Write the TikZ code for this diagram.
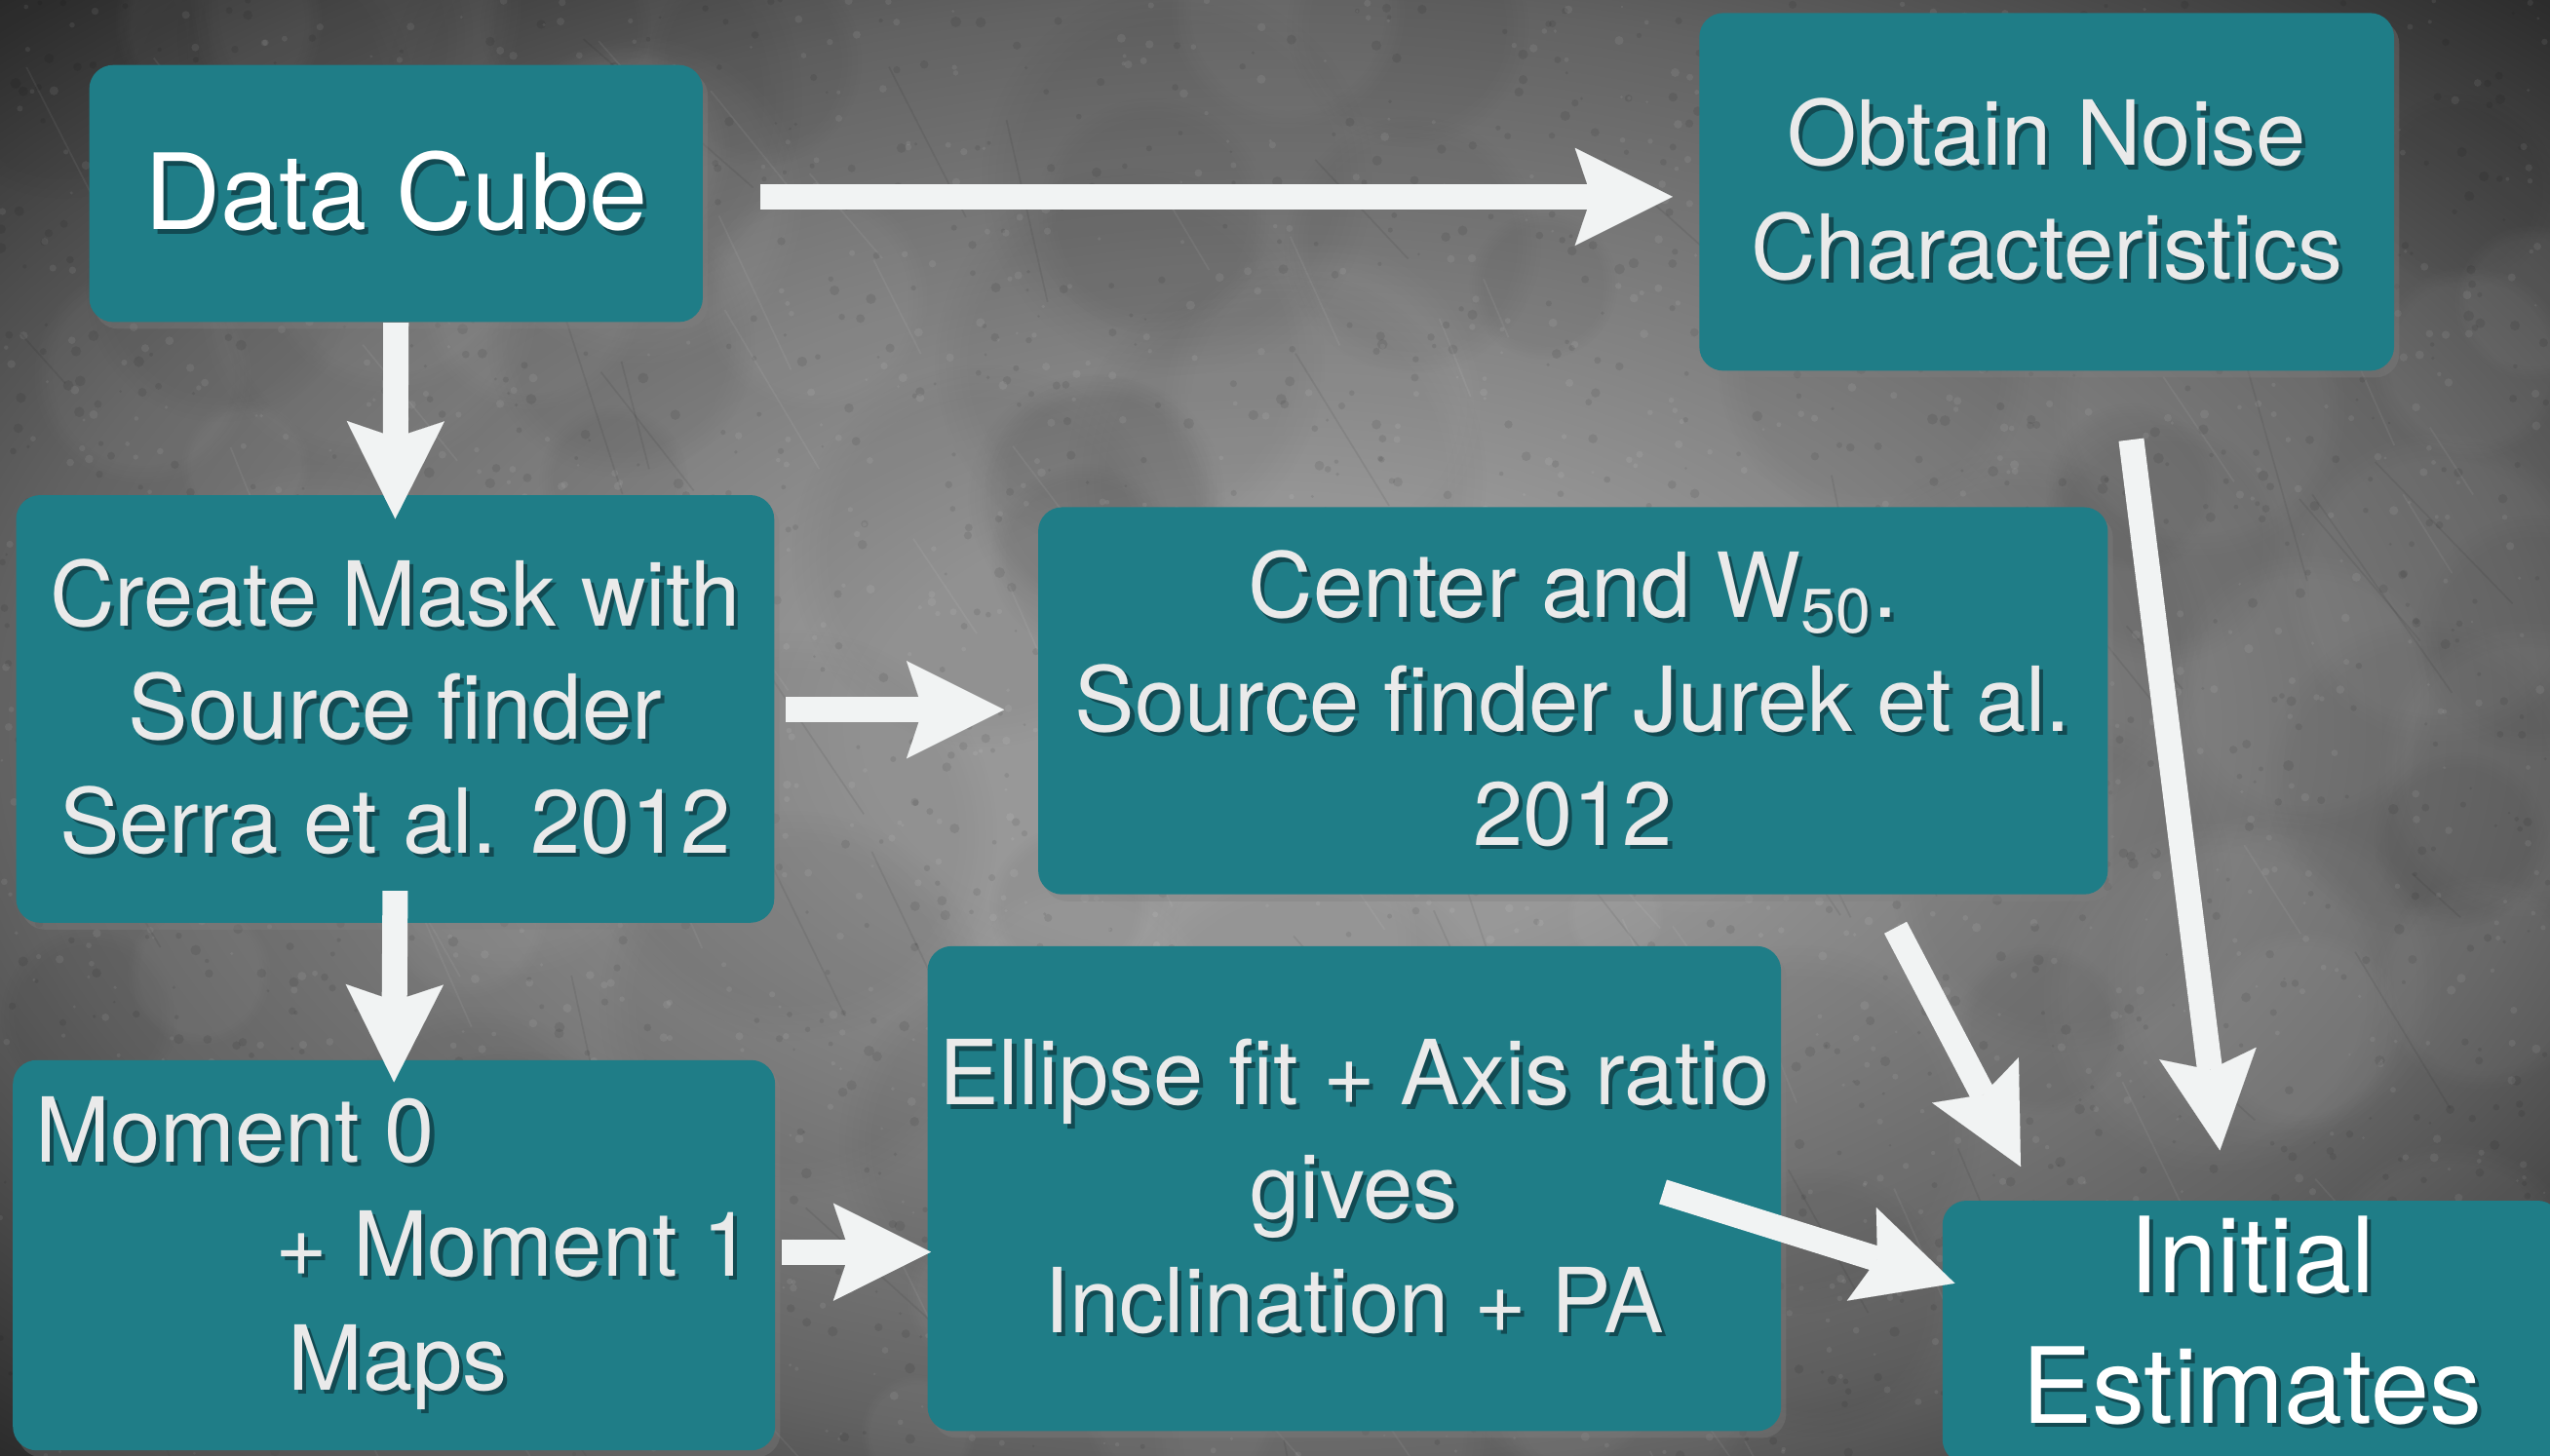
\documentclass[tikz,border=0pt]{standalone}
\usepackage{fontspec}
\setmainfont{TeX Gyre Heros}
\usetikzlibrary{arrows.meta,shadows,calc,fadings}

\definecolor{boxteal}{RGB}{31,125,135}
\definecolor{txtlight}{RGB}{234,234,234}
\definecolor{txtshade}{RGB}{18,74,82}
\definecolor{arrowwhite}{RGB}{241,243,243}
\definecolor{bgcentre}{RGB}{152,152,152}
\definecolor{bgedge}{RGB}{98,98,98}
\definecolor{bgcorner}{RGB}{40,40,40}

% darkened edges of the slate background
\pgfdeclareradialshading{vignette}{\pgfpoint{0bp}{0bp}}{color(0bp)=(bgcentre); color(8bp)=(bgcentre); color(25bp)=(bgedge); color(36bp)=(bgcorner); color(50bp)=(bgcorner)}

% text with a soft dark shadow below-right
\newcommand\ts[1]{\leavevmode\rlap{\kern1.2pt\raisebox{-1.2pt}{\textcolor{txtshade}{#1}}}#1}

\tikzset{
  stage/.style={fill=boxteal, rounded corners=7pt, inner sep=0pt, align=center,
    drop shadow={shadow xshift=1.5pt, shadow yshift=-2pt, opacity=0.35},
    text=txtlight, font=\fontsize{26.2}{33.2}\selectfont},
  bigstage/.style={stage, text=white, font=\fontsize{30.7}{38.9}\selectfont},
  flow/.style={draw=arrowwhite, line width=7.4pt,
    -{Stealth[length=28.5pt, width=28.5pt, inset=4.8pt, line width=0.01pt]}},
}

\begin{document}
\begin{tikzpicture}[x=0.016684cm, y=-0.016684cm]
\useasboundingbox (0,0) rectangle (1568,895);
\clip (0,0) rectangle (1568,895);

% slate background: vignette, soft blotches, grain and faint scratches
\shade[shading=vignette] (0,0) rectangle (1568,895);
\pgfmathsetseed{42}
\foreach \k in {1,...,50}{
  \pgfmathsetmacro{\px}{1568*rnd}
  \pgfmathsetmacro{\py}{895*rnd}
  \pgfmathsetmacro{\rad}{40+90*rnd}
  \fill[black, opacity=0.045, path fading=circle with fuzzy edge 20 percent]
    (\px,\py) circle (\rad);
}
\foreach \k in {1,...,40}{
  \pgfmathsetmacro{\px}{1568*rnd}
  \pgfmathsetmacro{\py}{895*rnd}
  \pgfmathsetmacro{\rad}{30+80*rnd}
  \fill[white, opacity=0.04, path fading=circle with fuzzy edge 20 percent]
    (\px,\py) circle (\rad);
}
\foreach \k in {1,...,1800}{
  \pgfmathsetmacro{\px}{1568*rnd}
  \pgfmathsetmacro{\py}{895*rnd}
  \pgfmathsetmacro{\rad}{0.8+2.5*rnd}
  \fill[black, opacity=0.08] (\px,\py) circle (\rad);
}
\foreach \k in {1,...,1800}{
  \pgfmathsetmacro{\px}{1568*rnd}
  \pgfmathsetmacro{\py}{895*rnd}
  \pgfmathsetmacro{\rad}{0.8+2*rnd}
  \fill[white, opacity=0.07] (\px,\py) circle (\rad);
}
\foreach \k in {1,...,90}{
  \pgfmathsetmacro{\px}{1568*rnd}
  \pgfmathsetmacro{\py}{895*rnd}
  \pgfmathsetmacro{\len}{30+90*rnd}
  \pgfmathsetmacro{\ang}{45+25*rnd}
  \draw[white, opacity=0.06, line width=0.5pt] (\px,\py) -- ++(\ang:\len);
}
\foreach \k in {1,...,60}{
  \pgfmathsetmacro{\px}{1568*rnd}
  \pgfmathsetmacro{\py}{895*rnd}
  \pgfmathsetmacro{\len}{30+120*rnd}
  \pgfmathsetmacro{\ang}{40+40*rnd}
  \draw[black, opacity=0.07, line width=0.5pt] (\px,\py) -- ++(\ang:\len);
}

% stages
\node[bigstage, minimum width=179pt, minimum height=75pt] (dc) at (243.5,119)
  {\ts{Data Cube}};
\node[stage, minimum width=202.7pt, minimum height=104.4pt] (noise) at (1258.5,118)
  {\ts{Obtain Noise}\\\ts{Characteristics}};
\node[stage, minimum width=221.2pt, minimum height=124.8pt] (mask) at (243,436)
  {\ts{Create Mask with}\\\ts{Source finder}\\\ts{Serra et al. 2012}};
\node[stage, minimum width=312.1pt, minimum height=113pt] (ctr) at (967.25,431)
  {\ts{Center and W\textsubscript{50}.}\\\ts{Source finder Jurek et al.}\\\ts{2012}};
\node[stage, align=left, minimum width=222.4pt, minimum height=113.9pt] (mom) at (242.25,772)
  {\ts{Moment 0}\\\hspace*{70pt}\ts{+ Moment 1}\\\hspace*{73.6pt}\ts{Maps}};
\node[stage, minimum width=249pt, minimum height=141.5pt] (ell) at (832.75,731)
  {\ts{Ellipse fit + Axis ratio}\\\ts{gives}\\\ts{Inclination + PA}};
\node[bigstage, minimum width=180.6pt, minimum height=76.7pt,
  font=\fontsize{30.7}{38}\selectfont] (init) at (1384.75,819.25)
  {\raisebox{2.5pt}{\begin{tabular}{@{}c@{}}\ts{Initial}\\\ts{Estimates}\end{tabular}}};

% connectors
\draw[flow] ($(dc.east)+(35,2)$) -- ($(dc.east -| noise.west)+(-16,2)$);
\draw[flow] (dc.south) -- ($(mask.north)+(0,15)$);
\draw[flow] ($(mask.south)+(0,-20)$) -- ($(mom.north)+(0,14)$);
\draw[flow] ($(mask.east)+(6.5,0.5)$) -- ($(mask.east -| ctr.west)+(-20.5,0.5)$);
\draw[flow] ($(mom.east)+(3.5,-2)$) -- ($(mom.east -| ell.west)+(2.5,-2)$);
\draw[flow] ($(noise.south east)+(-162,42)$) -- ($(init.north)+(-19.75,-30.5)$);
\draw[flow] ($(ctr.south east)+(-131,20)$) -- ($(init.north west)+(48.5,-20.5)$);
\draw[flow] ($(ell.east)+(-73,2)$) -- ($(init.west)+(8,-30)$);
\end{tikzpicture}
\end{document}
